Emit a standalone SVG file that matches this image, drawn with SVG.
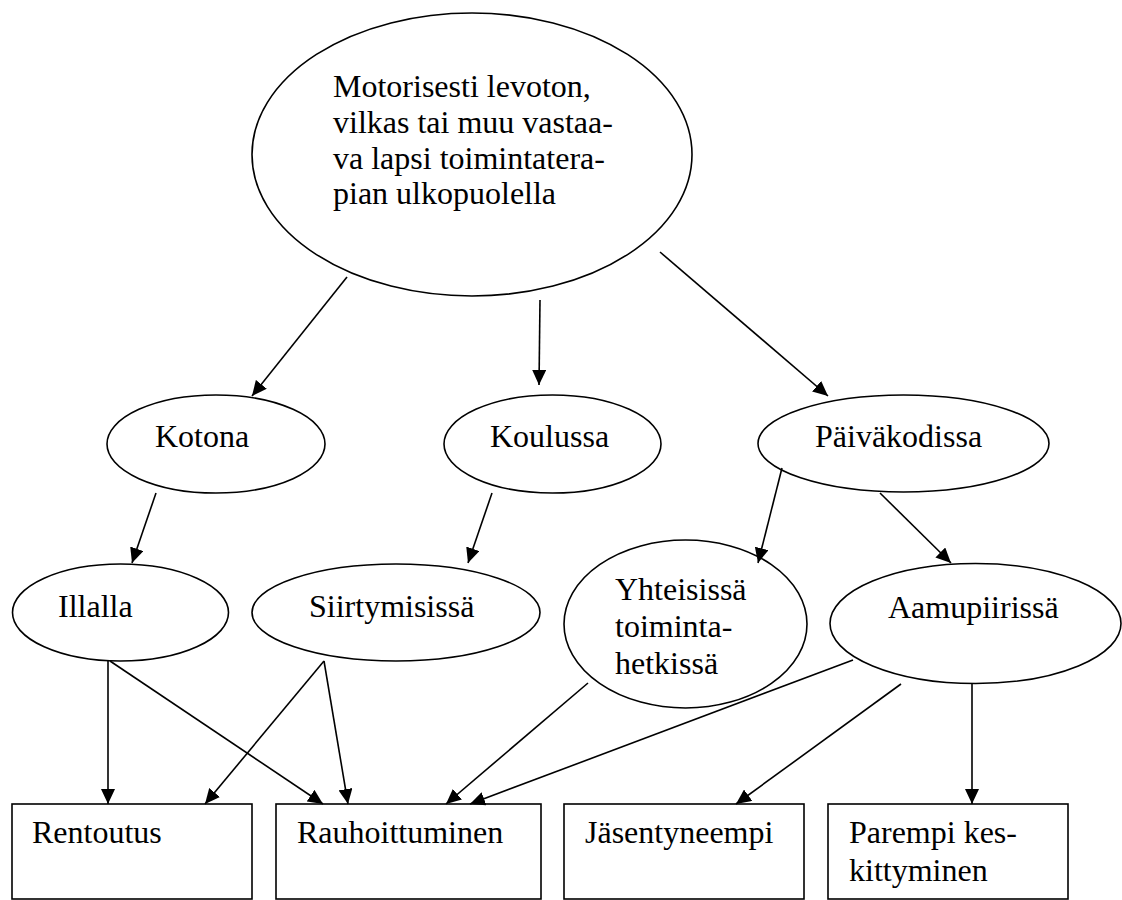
<svg xmlns="http://www.w3.org/2000/svg" width="1122" height="900" viewBox="0 0 1122 900">
  <style>
    .shape { fill: #ffffff; stroke: #000000; stroke-width: 1.6; }
    .label { font-family: "Liberation Serif", "Times New Roman", Times, "DejaVu Serif", serif; font-size: 32px; fill: #000000; }
    .edge { fill: none; stroke: #000000; stroke-width: 1.6; }
  </style>
  <defs>
    <marker id="arrow" markerUnits="userSpaceOnUse" markerWidth="16" markerHeight="14" refX="15" refY="7" orient="auto">
      <path d="M0,0 L15,7 L0,14 z" fill="#000000"/>
    </marker>
  </defs>
  <rect width="1122" height="900" fill="#ffffff"/>

  <!-- root node -->
  <g id="lapsi" font-family="Liberation Serif, Times New Roman, serif">
    <ellipse class="shape" cx="472" cy="154.5" rx="220" ry="141.5"/>
    <text class="label" x="333" y="97">Motorisesti levoton,</text>
    <text class="label" x="333" y="133">vilkas tai muu vastaa-</text>
    <text class="label" x="333" y="169">va lapsi toimintatera-</text>
    <text class="label" x="333" y="204">pian ulkopuolella</text>
  </g>

  <!-- settings -->
  <g id="kotona">
    <ellipse class="shape" cx="216" cy="444" rx="109" ry="49"/>
    <text class="label" x="155" y="447">Kotona</text>
  </g>
  <g id="koulussa">
    <ellipse class="shape" cx="552.5" cy="444" rx="108.5" ry="49"/>
    <text class="label" x="490" y="447">Koulussa</text>
  </g>
  <g id="paivakodissa">
    <ellipse class="shape" cx="903.5" cy="443.5" rx="145.5" ry="48.5"/>
    <text class="label" x="815" y="447">Päiväkodissa</text>
  </g>

  <!-- situations -->
  <g id="illalla">
    <ellipse class="shape" cx="120.5" cy="612.5" rx="108" ry="48.5"/>
    <text class="label" x="58" y="617">Illalla</text>
  </g>
  <g id="siirtymisissa">
    <ellipse class="shape" cx="396" cy="612.5" rx="144" ry="48.5"/>
    <text class="label" x="309" y="617">Siirtymisissä</text>
  </g>
  <g id="yhteisissa">
    <ellipse class="shape" cx="685.5" cy="624" rx="121.5" ry="84"/>
    <text class="label" x="615" y="600">Yhteisissä</text>
    <text class="label" x="615" y="637">toiminta-</text>
    <text class="label" x="615" y="674">hetkissä</text>
  </g>
  <g id="aamupiirissa">
    <ellipse class="shape" cx="975.5" cy="623.5" rx="145.5" ry="60"/>
    <text class="label" x="888" y="618">Aamupiirissä</text>
  </g>

  <!-- outcomes -->
  <g id="rentoutus">
    <rect class="shape" x="12" y="804" width="240" height="95"/>
    <text class="label" x="32" y="843">Rentoutus</text>
  </g>
  <g id="rauhoittuminen">
    <rect class="shape" x="276" y="804" width="265" height="95"/>
    <text class="label" x="297" y="843">Rauhoittuminen</text>
  </g>
  <g id="jasentyneempi">
    <rect class="shape" x="564" y="804" width="240" height="95"/>
    <text class="label" x="585" y="843">Jäsentyneempi</text>
  </g>
  <g id="keskittyminen">
    <rect class="shape" x="828" y="804" width="240" height="95"/>
    <text class="label" x="849" y="843">Parempi kes-</text>
    <text class="label" x="849" y="881">kittyminen</text>
  </g>

  <!-- connectors -->
  <g id="connectors">
    <line class="edge" x1="347" y1="277" x2="252" y2="396" marker-end="url(#arrow)"/>
    <line class="edge" x1="540" y1="300" x2="539" y2="385" marker-end="url(#arrow)"/>
    <line class="edge" x1="660" y1="252" x2="828" y2="396" marker-end="url(#arrow)"/>

    <line class="edge" x1="156" y1="493" x2="132" y2="563" marker-end="url(#arrow)"/>
    <line class="edge" x1="492" y1="493" x2="468" y2="563" marker-end="url(#arrow)"/>
    <line class="edge" x1="782" y1="468" x2="758" y2="563" marker-end="url(#arrow)"/>
    <line class="edge" x1="880" y1="493" x2="951" y2="563" marker-end="url(#arrow)"/>

    <line class="edge" x1="108" y1="661" x2="108" y2="804" marker-end="url(#arrow)"/>
    <line class="edge" x1="110" y1="661" x2="323" y2="804" marker-end="url(#arrow)"/>
    <line class="edge" x1="324" y1="661" x2="205" y2="804" marker-end="url(#arrow)"/>
    <line class="edge" x1="324" y1="661" x2="348" y2="804" marker-end="url(#arrow)"/>
    <line class="edge" x1="588" y1="683" x2="446" y2="804" marker-end="url(#arrow)"/>
    <line class="edge" x1="853" y1="660" x2="470" y2="804" marker-end="url(#arrow)"/>
    <line class="edge" x1="901" y1="684" x2="736" y2="804" marker-end="url(#arrow)"/>
    <line class="edge" x1="972" y1="683" x2="972" y2="804" marker-end="url(#arrow)"/>
  </g>
</svg>
